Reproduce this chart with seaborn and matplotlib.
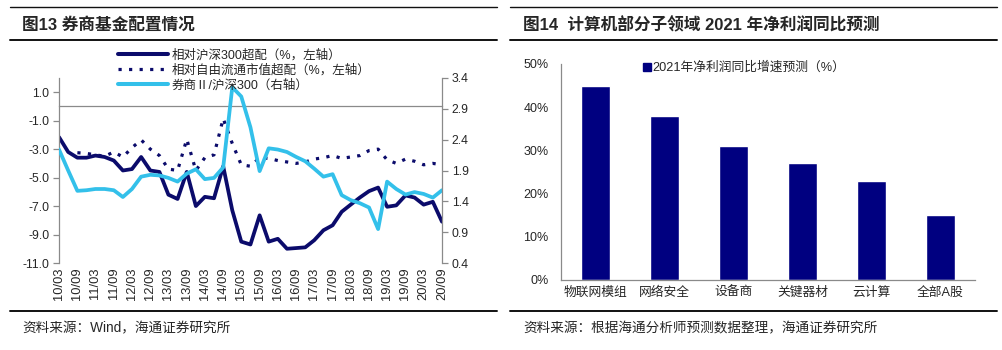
import matplotlib
matplotlib.use("Agg")
import matplotlib.pyplot as plt
import matplotlib.dates as mdates
from matplotlib.lines import Line2D
from matplotlib.patches import Patch
from matplotlib.ticker import FixedLocator, FuncFormatter, PercentFormatter
import numpy as np
import pandas as pd
import seaborn as sns

# ---- data: 券商基金配置 (quarterly, 2010/03 - 2020/09)
quarters = pd.date_range("2010-03-01", periods=43, freq="3MS")

rel_hs300 = [
    -2.15, -3.2, -3.6, -3.6, -3.45, -3.55, -3.8, -4.5, -4.4, -3.55,
    -4.5, -4.6, -6.2, -6.5, -4.6, -7.0, -6.35, -6.45, -4.2, -7.3,
    -9.5, -9.7, -7.65, -9.5, -9.3, -10.0, -9.95, -9.9, -9.4, -8.7,
    -8.35, -7.4, -6.9, -6.4, -5.95, -5.7, -7.05, -6.95, -6.25, -6.4,
    -6.9, -6.7, -8.1,
]
rel_free_float = [
    np.nan, np.nan, -3.25, -3.3, -3.4, -3.5, -3.2, -3.55, -2.9, -2.35,
    -3.0, -3.45, -4.4, -4.5, -2.3, -4.5, -3.6, -3.4, -0.85, -2.6,
    -4.1, -4.2, -3.6, -3.65, -3.8, -3.9, -4.0, -3.9, -3.7, -3.6,
    -3.45, -3.65, -3.55, -3.45, -3.1, -3.0, -3.75, -4.0, -3.7, -3.85,
    -4.1, -4.0, -4.1,
]
broker_vs_hs300 = [
    2.24, 1.9, 1.57, 1.58, 1.6, 1.6, 1.58, 1.47, 1.6, 1.8,
    1.83, 1.82, 1.78, 1.72, 1.85, 1.92, 1.76, 1.78, 1.95, 3.25,
    3.1, 2.6, 1.89, 2.26, 2.24, 2.2, 2.12, 2.05, 1.93, 1.8,
    1.84, 1.5, 1.42, 1.37, 1.3, 0.95, 1.72, 1.6, 1.51, 1.55,
    1.52, 1.46, 1.58,
]
left_ticks = [1.0, -1.0, -3.0, -5.0, -7.0, -9.0, -11.0]
right_ticks = [0.4, 0.9, 1.4, 1.9, 2.4, 2.9, 3.4]
line_labels = ["相对沪深300超配（%，左轴）", "相对自由流通市值超配（%，左轴）", "券商Ⅱ/沪深300（右轴）"]

# ---- data: 计算机子领域 2021 净利润增速预测
segments = ["物联网模组", "网络安全", "设备商", "关键器材", "云计算", "全部A股"]
growth_2021 = [45, 38, 31, 27, 23, 15]
bar_label = "2021年净利润同比增速预测（%）"

NAVY = "#0b0b6b"
CYAN = "#33c0ea"
GREY = "#8a8a8a"

sns.set_style("white")
plt.rcParams["font.family"] = ["Liberation Sans", "Noto Sans CJK SC", "DejaVu Sans"]
plt.rcParams["font.size"] = 8.8

fig = plt.figure(figsize=(10.03, 3.5), dpi=100)

# ---------------- left chart
ax = fig.add_axes([59 / 1003, 87 / 350, 383 / 1003, 185 / 350])
sns.lineplot(x=quarters, y=rel_hs300, ax=ax, color=NAVY, lw=2.7, solid_joinstyle="round")
sns.lineplot(x=quarters, y=rel_free_float, ax=ax, color=NAVY, lw=2.3)
ax.lines[-1].set_linestyle((0, (1, 2.3)))
ax.set_ylim(-11, 2)
ax.yaxis.set_major_locator(FixedLocator(left_ticks))
ax.yaxis.set_major_formatter(FuncFormatter(lambda v, p: f"{v:.1f}"))
ax.set_xlim(quarters[0], quarters[-1])

ax2 = ax.twinx()
sns.lineplot(x=quarters, y=broker_vs_hs300, ax=ax2, color=CYAN, lw=2.7, solid_joinstyle="round")
ax2.set_ylim(0.4, 3.4)
ax2.yaxis.set_major_locator(FixedLocator(right_ticks))
ax2.yaxis.set_major_formatter(FuncFormatter(lambda v, p: f"{v:.1f}"))
ax2.set_xlim(quarters[0], quarters[-1])

for a in (ax, ax2):
    a.set_xlabel("")
    a.set_ylabel("")
    a.spines["top"].set_visible(False)
    for s in a.spines.values():
        s.set_color(GREY)
        s.set_linewidth(0.9)
ax2.spines["bottom"].set_visible(False)
ax2.spines["left"].set_visible(False)
ax.spines["right"].set_visible(False)

ax.spines["bottom"].set_position(("data", 0))
ax.set_xticks(quarters[::2])
ax.tick_params(axis="x", direction="out", length=4, width=0.9, color=GREY, labelbottom=False)
ax.tick_params(axis="y", direction="out", length=4, width=0.9, color=GREY, labelsize=8.8, pad=3)
ax2.tick_params(axis="y", direction="out", length=4, width=0.9, color=GREY, labelsize=8.8, pad=3)

sec = ax.secondary_xaxis("bottom")
sec.set_xticks(quarters[::2])
sec.xaxis.set_major_formatter(mdates.DateFormatter("%y/%m"))
sec.tick_params(length=0, labelsize=9.3, pad=3)
sec.spines["bottom"].set_visible(False)
for t in sec.get_xticklabels():
    t.set_rotation(90)

handles = [
    Line2D([], [], color=NAVY, lw=2.9),
    Line2D([], [], color=NAVY, lw=2.3, ls=(0, (1, 2.3))),
    Line2D([], [], color=CYAN, lw=2.9),
]
fig.legend(handles, line_labels, loc="upper left", bbox_to_anchor=(118 / 1003, 1 - 49 / 350),
           frameon=False, handlelength=4.0, handletextpad=0.3, labelspacing=0.22,
           borderpad=0, borderaxespad=0, fontsize=9)

# ---------------- right chart
bx = fig.add_axes([561 / 1003, 70 / 350, 414 / 1003, 216 / 350])
sns.barplot(x=segments, y=growth_2021, ax=bx, color="#000080", width=0.43, saturation=1)
bx.set_ylim(0, 50)
bx.set_xlim(-0.5, len(segments) - 0.5)
bx.yaxis.set_major_locator(FixedLocator([0, 10, 20, 30, 40, 50]))
bx.yaxis.set_major_formatter(PercentFormatter(decimals=0))
bx.xaxis.set_minor_locator(FixedLocator(np.arange(0.5, len(segments) - 1, 1.0)))
bx.tick_params(axis="x", which="major", length=0, labelsize=9.2, pad=5)
bx.tick_params(axis="x", which="minor", direction="out", length=4, width=0.9, color=GREY)
bx.tick_params(axis="y", direction="out", length=4, width=0.9, color=GREY, labelsize=9, pad=5)
bx.set_xlabel("")
bx.set_ylabel("")
for s in ["top", "right"]:
    bx.spines[s].set_visible(False)
for s in ["left", "bottom"]:
    bx.spines[s].set_color(GREY)
    bx.spines[s].set_linewidth(0.9)
bx.legend([Patch(color="#000080")], [bar_label], loc="upper left",
          bbox_to_anchor=(82 / 414, 1.01), frameon=False, handlelength=0.6, handleheight=0.6,
          handletextpad=0.15, borderpad=0, borderaxespad=0, fontsize=9.2)

# ---------------- titles, rules, sources
for x0, x1 in [(10, 497), (510, 997)]:
    for y, lw in [(7, 1.0), (40, 1.4), (311, 1.4)]:
        fig.add_artist(Line2D([x0 / 1003, x1 / 1003], [1 - y / 350, 1 - y / 350], color="#111111", lw=lw))

fig.text(22 / 1003, 1 - 25 / 350, "图13 券商基金配置情况", fontsize=12, fontweight="bold", va="center")
fig.text(523 / 1003, 1 - 25 / 350, "图14  计算机部分子领域 2021 年净利润同比预测", fontsize=12, fontweight="bold", va="center")
fig.text(22 / 1003, 1 - 328 / 350, "资料来源：Wind，海通证券研究所", fontsize=9.8, va="center")
fig.text(523 / 1003, 1 - 328 / 350, "资料来源：根据海通分析师预测数据整理，海通证券研究所", fontsize=9.8, va="center")

fig.savefig("out.png", dpi=100, facecolor="white")
